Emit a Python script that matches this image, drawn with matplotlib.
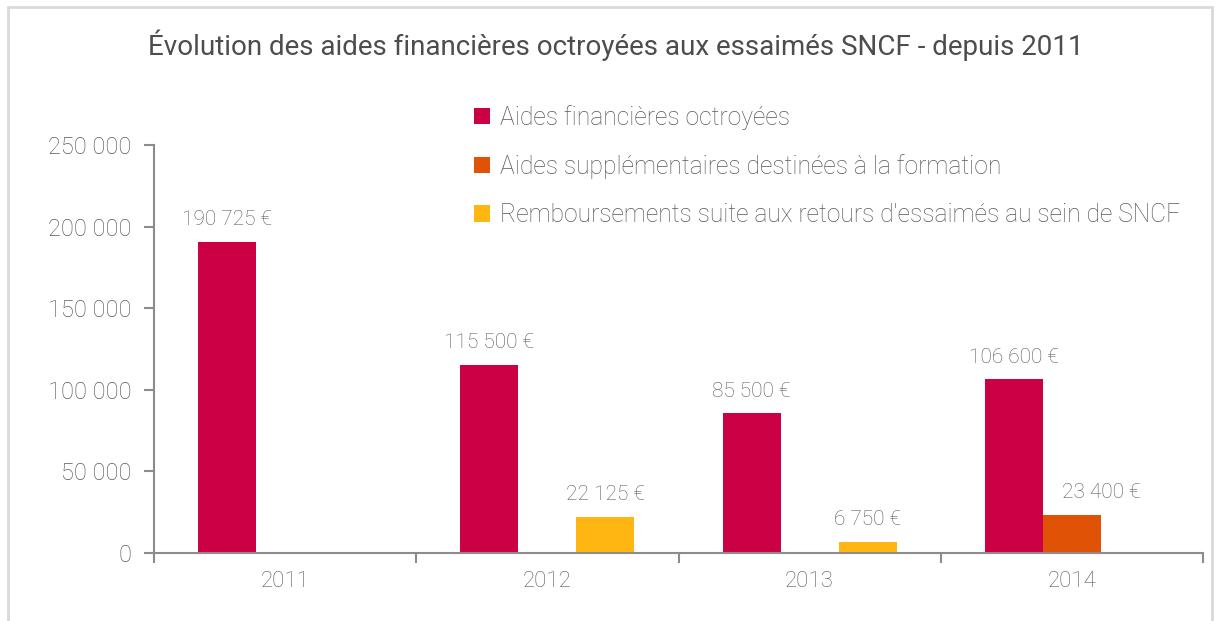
import matplotlib
matplotlib.use("Agg")
import matplotlib.pyplot as plt
import numpy as np
from matplotlib.patches import Rectangle

categories = ["2011", "2012", "2013", "2014"]
series_names = [
    "Aides financières octroyées",
    "Aides supplémentaires destinées à la formation",
    "Remboursements suite aux retours d'essaimés au sein de SNCF",
]
aides = [190725, 115500, 85500, 106600]
formation = [0, 0, 0, 23400]
remboursements = [0, 22125, 6750, 0]
yticks = [0, 50000, 100000, 150000, 200000, 250000]
ytick_labels = ["0", "50 000", "100 000", "150 000", "200 000", "250 000"]
title = "Évolution des aides financières octroyées aux essaimés SNCF - depuis 2011"

colors = ["#CC0044", "#E05206", "#FFB612"]
text_color = "#595959"
axis_color = "#8C8C8C"

plt.rcParams['font.family'] = ['Roboto', 'DejaVu Sans']
W_ = "light"

W, H = 1219, 621
fig = plt.figure(figsize=(W / 100, H / 100), dpi=100)
ax = fig.add_axes([154 / W, (H - 553) / H, (1203 - 154) / W, (553 - 145) / H])

x = np.arange(len(categories))
bw = 0.221
series = [aides, formation, remboursements]
for i, (vals, c, name) in enumerate(zip(series, colors, series_names)):
    pos = x + (i - 1) * bw
    ax.bar(pos, vals, width=bw, color=c, label=name, edgecolor='none')
    for p, v in zip(pos, vals):
        if v > 0:
            lbl = f"{v:,}".replace(",", " ") + " €"
            dx = 21 if i == 1 else 0
            ax.annotate(lbl, (p, v), xytext=(dx, 9), textcoords="offset points",
                        ha="center", va="bottom", fontsize=15, color=text_color,
                        fontweight=W_)

ax.set_xlim(-0.5, len(categories) - 0.5)
ax.set_ylim(0, 250000)
ax.set_yticks(yticks)
ax.set_yticklabels(ytick_labels)
ax.set_xticks(x)
ax.set_xticklabels(categories)
ax.set_xticks(np.arange(-0.5, len(categories), 1.0), minor=True)
ax.tick_params(axis='x', which='major', length=0, pad=13, labelsize=16, labelcolor=text_color)
ax.tick_params(axis='x', which='minor', length=7, width=1.5, color=axis_color, direction='out')
ax.tick_params(axis='y', length=7, width=1.5, color=axis_color, pad=9, labelsize=17, labelcolor=text_color)
for lab in ax.get_xticklabels() + ax.get_yticklabels():
    lab.set_fontweight(W_)

for s in ["top", "right"]:
    ax.spines[s].set_visible(False)
for s in ["left", "bottom"]:
    ax.spines[s].set_color(axis_color)
    ax.spines[s].set_linewidth(1.5)

leg = fig.legend(loc="upper left", bbox_to_anchor=(474 / W, 1 - 105 / H), frameon=False,
                 prop={'size': 17.7, 'weight': W_}, handlelength=0.65, handleheight=0.65,
                 handletextpad=0.4, labelspacing=0.98, borderpad=0, borderaxespad=0)
for t in leg.get_texts():
    t.set_color(text_color)

fig.text(616 / W, 1 - 45 / H, title, ha="center", va="center", fontsize=20,
         color="#4D4D4D", fontweight="normal")

fig.patches.append(Rectangle((8 / W, -0.01), (1212 - 8) / W, 1 - 7 / H + 0.01,
                             transform=fig.transFigure, fill=False,
                             edgecolor="#D9D9D9", linewidth=2))

fig.savefig("out.png", dpi=100)
